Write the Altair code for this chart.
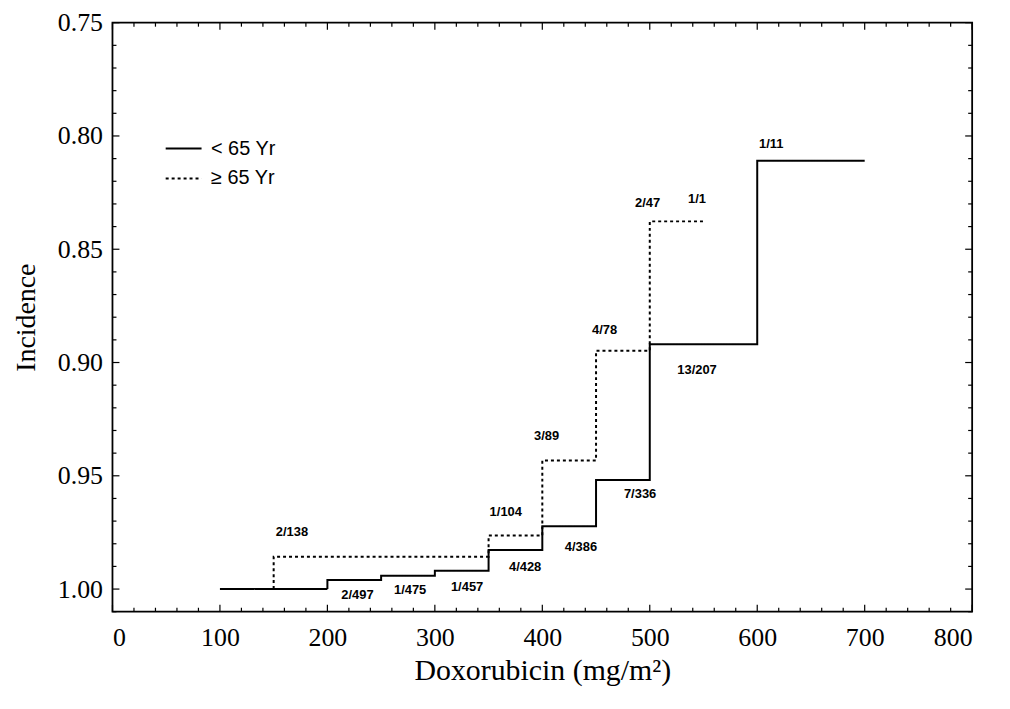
import altair as alt
import pandas as pd

# ---- data ----
young_dose = [100, 200, 250, 300, 350, 400, 450, 500, 600, 700]
young_inc = [1.000, 0.9960, 0.9941, 0.9919, 0.9828, 0.9723, 0.9519, 0.8919, 0.8109, 0.8109]

old_dose = [150, 150, 350, 400, 450, 500, 550]
old_inc = [1.000, 0.9857, 0.9764, 0.9432, 0.8948, 0.8377, 0.8377]

label_text = ["2/138", "2/497", "1/475", "1/457", "1/104", "4/428", "4/386",
              "3/89", "7/336", "4/78", "13/207", "2/47", "1/1", "1/11"]
label_dose = [167, 228, 277, 330, 366, 384, 436, 404, 491, 458, 544, 498, 544, 613]
label_inc = [0.9747, 1.0026, 1.0006, 0.9989, 0.9659, 0.9902, 0.9816,
             0.9323, 0.9580, 0.8858, 0.9031, 0.8298, 0.8278, 0.8037]

groups = ["< 65 Yr", "\u2265 65 Yr"]

x_major = [0, 100, 200, 300, 400, 500, 600, 700, 800]
x_minor = [v for v in range(0, 801, 20) if v % 100 != 0]
y_major = [0.75, 0.80, 0.85, 0.90, 0.95, 1.00]
y_minor = [round(0.75 + i * 0.01, 2) for i in range(27)]
y_minor = [v for v in y_minor if v not in y_major]

W, H = 864, 592

lines = pd.DataFrame(
    [{"dose": d, "incidence": v, "group": groups[0], "idx": i}
     for i, (d, v) in enumerate(zip(young_dose, young_inc))]
    + [{"dose": d, "incidence": v, "group": groups[1], "idx": i}
       for i, (d, v) in enumerate(zip(old_dose, old_inc))]
)
labels = pd.DataFrame({"dose": label_dose, "incidence": label_inc, "text": label_text})

xscale = alt.Scale(domain=[0, 800], nice=False, zero=False)
yscale = alt.Scale(domain=[0.75, 1.01], nice=False, zero=False, reverse=True)

xaxis = alt.Axis(values=x_major, title="Doxorubicin (mg/m\u00b2)", ticks=False, domain=False,
                 grid=False, labelFont="Liberation Serif", labelFontSize=26,
                 labelColor="black", labelPadding=13, titleFont="Liberation Serif",
                 titleFontSize=30, titleFontWeight="normal", titleColor="black",
                 titlePadding=5)
yaxis = alt.Axis(values=y_major, format=".2f", title="Incidence", ticks=False, domain=False,
                 grid=False, labelFont="Liberation Serif", labelFontSize=26,
                 labelColor="black", labelPadding=10, titleFont="Liberation Serif",
                 titleFontSize=28, titleFontWeight="normal", titleColor="black",
                 titlePadding=17)

base_lines = alt.Chart(lines).mark_line(interpolate="step-after", color="black",
                                        strokeWidth=2).encode(
    x=alt.X("dose:Q", scale=xscale, axis=xaxis),
    y=alt.Y("incidence:Q", scale=yscale, axis=yaxis),
    strokeDash=alt.StrokeDash(
        "group:N",
        scale=alt.Scale(domain=groups, range=[[1, 0], [3, 3]]),
        legend=alt.Legend(title=None, orient="none", legendX=52, legendY=107,
                          symbolType="stroke", symbolSize=1300, symbolStrokeWidth=2,
                          symbolStrokeColor="black", labelFont="Liberation Sans",
                          labelFontSize=20, labelColor="black", labelOffset=8,
                          rowPadding=0, padding=0),
    ),
    detail="group:N",
    order="idx:Q",
)

texts = alt.Chart(labels).mark_text(font="Liberation Sans", fontSize=13, fontWeight="bold",
                                    color="black", align="center", baseline="middle").encode(
    x=alt.X("dose:Q", scale=xscale),
    y=alt.Y("incidence:Q", scale=yscale),
    text="text:N",
)


def xticks(vals, length):
    df = pd.DataFrame({"dose": vals})
    bottom = alt.Chart(df).mark_rule(color="black", strokeWidth=1.2).encode(
        x=alt.X("dose:Q", scale=xscale), y=alt.value(H - length), y2=alt.value(H))
    top = alt.Chart(df).mark_rule(color="black", strokeWidth=1.2).encode(
        x=alt.X("dose:Q", scale=xscale), y=alt.value(0), y2=alt.value(length))
    return [bottom, top]


def yticks(vals, length):
    df = pd.DataFrame({"incidence": vals})
    left = alt.Chart(df).mark_rule(color="black", strokeWidth=1.2).encode(
        y=alt.Y("incidence:Q", scale=yscale), x=alt.value(0), x2=alt.value(length))
    right = alt.Chart(df).mark_rule(color="black", strokeWidth=1.2).encode(
        y=alt.Y("incidence:Q", scale=yscale), x=alt.value(W - length), x2=alt.value(W))
    return [left, right]


tick_layers = xticks(x_major, 7) + xticks(x_minor, 4) + yticks(y_major, 7) + yticks(y_minor, 4)

chart = alt.layer(base_lines, texts, *tick_layers).properties(
    width=W, height=H,
    autosize=alt.AutoSizeParams(type="none"),
    padding={"left": 105, "top": 13, "right": 30, "bottom": 96},
    background="white",
).configure_view(stroke="black", strokeWidth=1.8)

chart.save("out.html", embed_options={"renderer": "svg", "actions": False})
